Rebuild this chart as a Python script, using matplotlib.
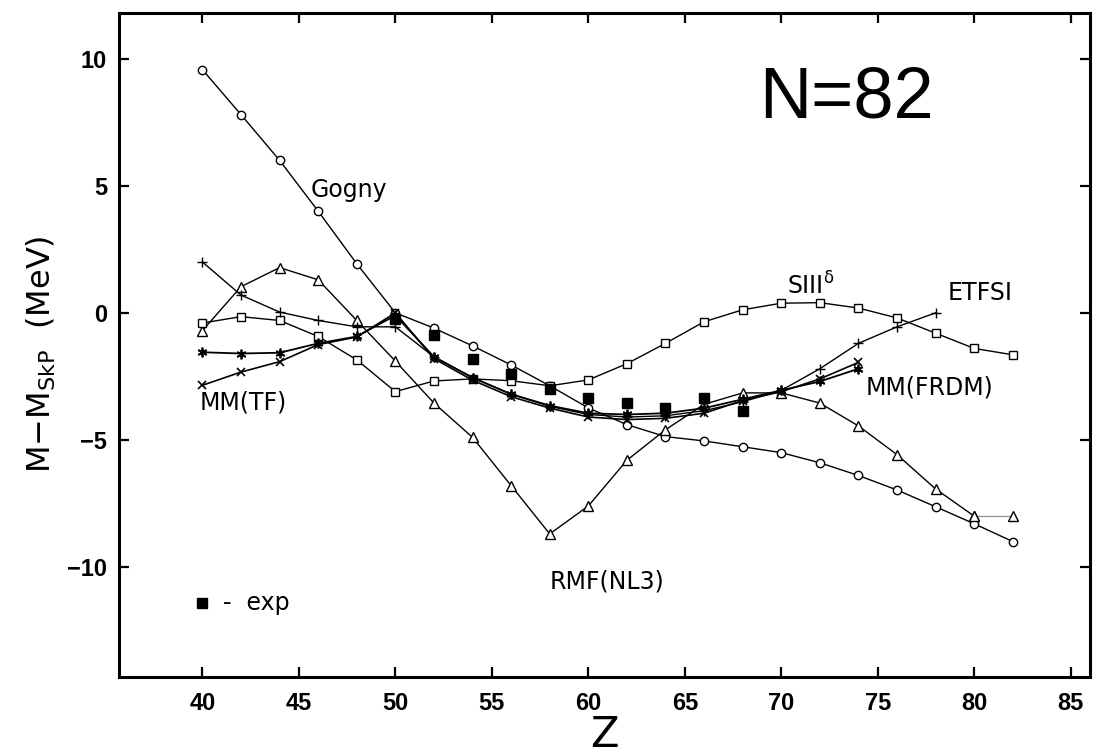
import matplotlib
matplotlib.use('Agg')
import matplotlib.pyplot as plt

# ---------------- data ----------------
Z_all = [40, 42, 44, 46, 48, 50, 52, 54, 56, 58, 60, 62, 64, 66, 68, 70, 72, 74, 76, 78, 80, 82]
gogny = [9.57, 7.8, 6.0, 4.0, 1.93, 0.0, -0.6, -1.3, -2.05, -2.87, -3.74, -4.4, -4.87, -5.04,
         -5.27, -5.5, -5.9, -6.4, -6.97, -7.63, -8.3, -9.0]
rmf_nl3 = [-0.7, 1.03, 1.78, 1.3, -0.3, -1.9, -3.55, -4.9, -6.8, -8.7, -7.6, -5.8, -4.6, -3.6,
           -3.15, -3.15, -3.55, -4.45, -5.58, -6.93, -8.0, -8.0]
siii_delta = [-0.4, -0.15, -0.3, -0.93, -1.85, -3.1, -2.68, -2.6, -2.67, -2.87, -2.64, -2.0,
              -1.2, -0.35, 0.12, 0.38, 0.4, 0.19, -0.2, -0.8, -1.4, -1.65]

Z_etfsi = [40, 42, 44, 46, 48, 50, 52, 54, 56, 58, 60, 62, 64, 66, 68, 70, 72, 74, 76, 78]
etfsi = [2.0, 0.7, 0.03, -0.3, -0.55, -0.55, -1.73, -2.55, -3.2, -3.68, -4.0, -4.1, -4.05,
         -3.85, -3.5, -3.05, -2.2, -1.2, -0.55, 0.0]

Z_mm = [40, 42, 44, 46, 48, 50, 52, 54, 56, 58, 60, 62, 64, 66, 68, 70, 72, 74]
mm_frdm = [-1.55, -1.6, -1.57, -1.2, -0.93, -0.1, -1.73, -2.55, -3.2, -3.65, -3.95, -4.0,
           -3.95, -3.75, -3.4, -3.05, -2.7, -2.2]
mm_tf = [-2.85, -2.33, -1.92, -1.25, -0.95, 0.0, -1.8, -2.65, -3.3, -3.75, -4.1, -4.2,
         -4.15, -3.95, -3.45, -3.1, -2.6, -1.95]

Z_exp = [50, 52, 54, 56, 58, 60, 62, 64, 66, 68]
exp_vals = [-0.25, -0.87, -1.8, -2.4, -3.0, -3.35, -3.55, -3.75, -3.35, -3.85]

x_ticks = [40, 45, 50, 55, 60, 65, 70, 75, 80, 85]
y_ticks = [-10, -5, 0, 5, 10]

# ---------------- figure ----------------
fig = plt.figure(figsize=(10.96, 7.55), dpi=100)
ax = fig.add_axes([0.109, 0.1033, 0.8855, 0.8795])

lw = 1.0
ms = 6
mk = dict(markerfacecolor='white', markeredgecolor='black', markeredgewidth=1.0)

ax.plot(Z_all, gogny, '-', color='black', lw=lw, marker='o', ms=ms, **mk, zorder=3)
ax.plot(Z_all[:-1], rmf_nl3[:-1], '-', color='black', lw=lw, marker='^', ms=ms + 0.5, **mk, zorder=3)
ax.plot(Z_all[-2:], rmf_nl3[-2:], '-', color='0.6', lw=lw, marker='^', ms=ms + 0.5, **mk, zorder=2)
ax.plot(Z_all, siii_delta, '-', color='black', lw=lw, marker='s', ms=ms, **mk, zorder=3)
ax.plot(Z_etfsi, etfsi, '-', color='black', lw=lw, marker='+', ms=7, markeredgewidth=1.0, zorder=4)
ax.plot(Z_mm, mm_frdm, '-', color='black', lw=1.3, marker=(6, 2, 0), ms=7, markeredgewidth=1.3, zorder=4)
ax.plot(Z_mm, mm_tf, '-', color='black', lw=1.2, marker='x', ms=6, markeredgewidth=1.2, zorder=4)
ax.plot(Z_exp, exp_vals, linestyle='none', marker='s', ms=6.5, color='black', zorder=5)

# legend-like "exp" note
ax.plot([40], [-11.4], linestyle='none', marker='s', ms=6.5, color='black')
ax.text(41.05, -11.4, '-  exp', fontsize=17, va='center', ha='left', family='DejaVu Sans')

# curve labels
lab = dict(fontsize=17, family='DejaVu Sans', va='baseline', ha='left')
ax.text(45.6, 4.57, 'Gogny', **lab)
ax.text(39.85, -3.82, 'MM(TF)', **lab)
ax.text(70.3, 0.71, r'SIII$^{\mathregular{\delta}}$', **lab)
ax.text(82.0, 0.5, 'ETFSI', fontsize=17, family='DejaVu Sans', va='baseline', ha='right')
ax.text(74.35, -3.23, 'MM(FRDM)', **lab)
ax.text(58.0, -10.85, 'RMF(NL3)', **lab)
ax.text(77.9, 7.68, 'N=82', fontsize=52, family='Liberation Sans', va='baseline', ha='right')

ax.set_xlim(35.7, 86.0)
ax.set_ylim(-14.33, 11.8)
ax.set_xticks(x_ticks)
ax.set_yticks(y_ticks)
ax.set_xticklabels([str(t) for t in x_ticks])
ax.set_yticklabels([str(t) if t >= 0 else '\u2212' + str(-t) for t in y_ticks])

for s in ax.spines.values():
    s.set_linewidth(2.2)
ax.tick_params(direction='in', length=7, width=1.6, top=True, right=True)
ax.tick_params(axis='x', pad=11)
ax.tick_params(axis='y', pad=9)
for t in ax.get_xticklabels() + ax.get_yticklabels():
    t.set_fontsize(17)
    t.set_fontweight('bold')
    t.set_family('Liberation Sans')

ax.set_xlabel('Z', fontsize=30, family='DejaVu Sans', labelpad=0)
ax.xaxis.set_label_coords(0.5, -0.0875, transform=ax.transAxes)
ax.xaxis.label.set_va('center')
ax.set_ylabel(r'M$-$M$_{\mathregular{SkP}}$  (MeV)', fontsize=23, family='DejaVu Sans')
ax.yaxis.set_label_coords(-0.081, 0.486)
ax.yaxis.label.set_va('center')

fig.savefig('out.png', dpi=100)
